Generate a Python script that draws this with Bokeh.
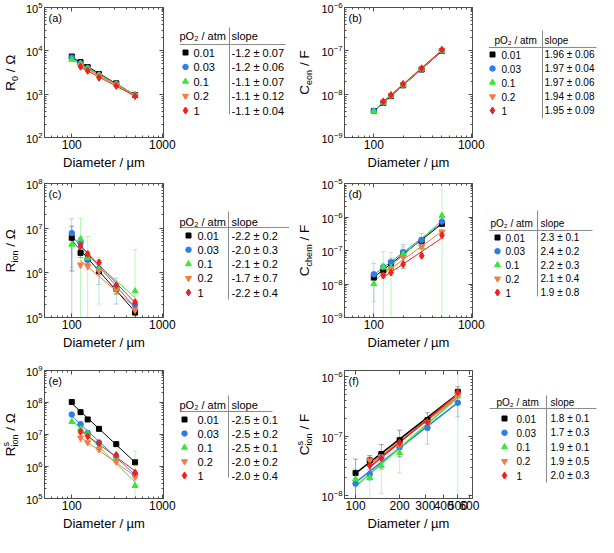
import numpy as np
from bokeh.plotting import figure
from bokeh.layouts import row, column
from bokeh.models import Range1d, FixedTicker, LogAxis, PrintfTickFormatter, Label, AllLabels
from bokeh.core.properties import value
from bokeh.embed import file_html
from bokeh.resources import INLINE

FONT = "Liberation Sans"
AX = "#4d4d4d"
nan = float("nan")

# ---------------- data ----------------
diameters = [100, 125, 150, 200, 310, 500]
po2_levels = ["0.01", "0.03", "0.1", "0.2", "1"]
series_colors = ["#000000", "#2f7ee8", "#39e639", "#f47a45", "#f01e1e"]
series_markers = ["square", "circle", "triangle", "inverted_triangle", "diamond"]
series_sizes = [5, 5.5, 6, 6, 7]

# (a) R0 / Ohm
a_001 = [7400, 5500, 4200, 2900, 1780, 960]
a_003 = [7000, 5200, 4000, 2780, 1720, 950]
a_01 = [6300, 5000, 3900, 2720, 1700, 980]
a_02 = [nan, 4700, 3750, 2600, 1650, 940]
a_1 = [nan, 4300, 3450, 2400, 1550, 900]
a_slopes = ["-1.2 ± 0.07", "-1.2 ± 0.06", "-1.1 ± 0.07", "-1.1 ± 0.12", "-1.1 ± 0.04"]

# (b) C_eon / F
b_001 = [4.1e-9, 6.3e-9, 9.0e-9, 1.60e-8, 3.70e-8, 1.00e-7]
b_003 = [4.1e-9, 6.4e-9, 9.1e-9, 1.62e-8, 3.75e-8, 1.00e-7]
b_01 = [4.0e-9, 6.4e-9, 9.2e-9, 1.63e-8, 3.80e-8, 1.01e-7]
b_02 = [nan, 6.6e-9, 9.4e-9, 1.68e-8, 3.85e-8, 1.02e-7]
b_1 = [nan, 6.8e-9, 9.6e-9, 1.72e-8, 3.95e-8, 1.06e-7]
b_slopes = ["1.96 ± 0.06", "1.97 ± 0.04", "1.97 ± 0.06", "1.94 ± 0.08", "1.95 ± 0.09"]

# (c) R_ion / Ohm
c_001 = [6.1e6, 2.8e6, 2.0e6, 1.1e6, 4.4e5, 1.3e5]
c_003 = [7.8e6, 4.7e6, 2.0e6, 1.25e6, 4.8e5, 1.9e5]
c_01 = [4.3e6, 5.7e6, 2.2e6, 1.2e6, 4.3e5, 3.9e5]
c_02 = [nan, 1.5e6, 1.4e6, 1.1e6, 4.3e5, 1.45e5]
c_1 = [nan, 4.0e6, 2.65e6, 1.7e6, 5.3e5, 2.2e5]
c_err_001 = [5.0e6, 6e5, 4e5, 2e5, 1e5, 2e4]
c_err_003 = [8.5e6, 1.5e6, 5e5, 7e5, 2.8e5, 3e4]
c_err_01 = [3e6, 1.1e7, 4.3e6, 1.0e6, 1e5, 2.9e6]
c_err_02 = [nan, 2e5, 2e5, 2e5, 1e5, 2e4]
c_err_1 = [nan, 3e5, 3e5, 2e5, 5e4, 3e4]
c_slopes = ["-2.2 ± 0.2", "-2.0 ± 0.3", "-2.1 ± 0.2", "-1.7 ± 0.7", "-2.2 ± 0.4"]

# (d) C_chem / F
d_001 = [1.55e-8, 2.55e-8, 4.2e-8, 8.3e-8, 1.95e-7, 6.3e-7]
d_003 = [1.95e-8, 3.2e-8, 4.4e-8, 8.9e-8, 2.05e-7, 7.3e-7]
d_01 = [1.0e-8, 3.2e-8, 3.1e-8, 7.9e-8, 1.25e-7, 1.1e-6]
d_02 = [nan, 1.85e-8, 2.75e-8, 6.3e-8, 1.32e-7, 3.6e-7]
d_1 = [nan, 1.8e-8, 2.2e-8, 3.9e-8, 7.0e-8, 2.85e-7]
d_err_001 = [6e-9, 6e-9, 1e-8, 2e-8, 5e-8, 1e-7]
d_err_003 = [2.2e-8, 1e-8, 1.5e-8, 6e-8, 1.2e-7, 2e-7]
d_err_01 = [7e-9, 6e-8, 5.5e-8, 5e-8, 6e-8, 1.2e-5]
d_err_02 = [nan, 3e-9, 5e-9, 1e-8, 2e-8, 5e-8]
d_err_1 = [nan, 3e-9, 4e-9, 6e-9, 1e-8, 5e-8]
d_slopes = ["2.3 ± 0.1", "2.4 ± 0.2", "2.2 ± 0.3", "2.1 ± 0.4", "1.9 ± 0.8"]

# (e) R^s_ion / Ohm
e_001 = [1.04e8, 5.0e7, 2.95e7, 1.5e7, 5.0e6, 1.35e6]
e_003 = [4.2e7, 2.1e7, 1.12e7, 5.6e6, 2.0e6, 5.6e5]
e_01 = [2.5e7, 1.5e7, 1.05e7, 4.0e6, 1.75e6, 2.5e5]
e_02 = [nan, 7.9e6, 5.6e6, 3.4e6, 1.4e6, 4.7e5]
e_1 = [nan, 1.22e7, 8.8e6, 5.3e6, 2.3e6, 6.4e5]
e_err_001 = [2e6, 1e6, 1e6, 5e5, 2e5, 1e5]
e_err_003 = [2e6, 4e6, 1e6, 5e5, 2e5, 1e5]
e_err_01 = [1.5e6, 3e6, 3e6, 8e5, 2e5, 2.8e6]
e_err_02 = [nan, 2e6, 5e5, 3e5, 1e5, 5e4]
e_err_1 = [nan, 1.5e6, 1e6, 5e5, 2e5, 1e5]
e_slopes = ["-2.5 ± 0.1", "-2.5 ± 0.2", "-2.5 ± 0.1", "-2.0 ± 0.2", "-2.0 ± 0.4"]

# (f) C^s_ion / F
f_001 = [2.4e-8, 3.9e-8, 5.0e-8, 8.5e-8, 1.85e-7, 5.5e-7]
f_003 = [1.6e-8, 2.3e-8, 4.4e-8, 6.5e-8, 1.38e-7, 3.6e-7]
f_01 = [1.9e-8, 2.0e-8, 3.2e-8, 5.2e-8, 1.7e-7, 4.8e-7]
f_02 = [nan, 3.9e-8, 4.5e-8, 7.1e-8, 1.7e-7, 5.0e-7]
f_1 = [nan, 3.2e-8, 4.3e-8, 7.7e-8, 1.72e-7, 5.4e-7]
f_err_001 = [1.7e-8, 8e-9, 2.2e-8, 4e-8, 6e-8, 1.2e-7]
f_err_003 = [1.2e-8, 5e-9, 1e-8, 1.5e-8, 6.5e-8, 1.5e-7]
f_err_01 = [5e-9, 1.6e-8, 2.1e-8, 2.8e-8, 3e-8, 1.5e-6]
f_err_02 = [nan, 7e-9, 8e-9, 1e-8, 2e-8, 5e-8]
f_err_1 = [nan, 5e-9, 8e-9, 1e-8, 2e-8, 6e-8]
f_slopes = ["1.8 ± 0.1", "1.7 ± 0.3", "1.9 ± 0.1", "1.9 ± 0.5", "2.0 ± 0.3"]

x_major = [100, 1000]
x_minor = [50, 60, 70, 80, 90, 200, 300, 400, 500, 600, 700, 800, 900]
f_x_major = [100, 200, 300, 400, 500, 600]
X_RANGE = (50, 1030)

panels = {
    "a": dict(letter="(a)", values=[a_001, a_003, a_01, a_02, a_1], errors=None, slopes=a_slopes,
              xr=X_RANGE, yr=(1e2, 1e5), xt=x_major, xm=x_minor, lw=1.0,
              ylab=[("R", "main"), ("0", "sub"), (" / Ω", "main")],
              tab=dict(hx=0, l0=0, l1=106, mx=6, tx=14, vx=50, sx=52, hy=35, ly=44, r0=52, dr=14.5, v0=27, v1=114, fs=11)),
    "b": dict(letter="(b)", values=[b_001, b_003, b_01, b_02, b_1], errors=None, slopes=b_slopes,
              xr=X_RANGE, yr=(1e-9, 1e-6), xt=x_major, xm=x_minor, lw=1.0,
              ylab=[("C", "main"), ("eon", "sub"), (" / F", "main")],
              tab=dict(hx=6, l0=0, l1=108, mx=4, tx=13, vx=54, sx=56, hy=40, ly=47, r0=54, dr=14, v0=30, v1=118, fs=10)),
    "c": dict(letter="(c)", values=[c_001, c_003, c_01, c_02, c_1],
              errors=[c_err_001, c_err_003, c_err_01, c_err_02, c_err_1], slopes=c_slopes,
              xr=X_RANGE, yr=(1e5, 1e8), xt=x_major, xm=x_minor, lw=1.0,
              ylab=[("R", "main"), ("ion", "sub"), (" / Ω", "main")],
              tab=dict(hx=0, l0=0, l1=110, mx=9, tx=18, vx=49, sx=52, hy=49, ly=55, r0=63, dr=14.25, v0=39, v1=127, fs=11)),
    "d": dict(letter="(d)", values=[d_001, d_003, d_01, d_02, d_1],
              errors=[d_err_001, d_err_003, d_err_01, d_err_02, d_err_1], slopes=d_slopes,
              xr=X_RANGE, yr=(1e-9, 1e-5), xt=x_major, xm=x_minor, lw=1.0,
              ylab=[("C", "main"), ("chem", "sub"), (" / F", "main")],
              tab=dict(hx=2, l0=0, l1=104, mx=9, tx=17, vx=49, sx=52, hy=51, ly=58, r0=65, dr=13.75, v0=38, v1=124, fs=10)),
    "e": dict(letter="(e)", values=[e_001, e_003, e_01, e_02, e_1],
              errors=[e_err_001, e_err_003, e_err_01, e_err_02, e_err_1], slopes=e_slopes,
              xr=X_RANGE, yr=(1e5, 1e9), xt=x_major, xm=x_minor, lw=1.0,
              ylab=[("R", "main"), ("s", "sup"), ("ion", "sub"), (" / Ω", "main")],
              tab=dict(hx=0, l0=0, l1=93, mx=5, tx=18, vx=49, sx=52, hy=52, ly=59, r0=67, dr=14, v0=43, v1=125, fs=11)),
    "f": dict(letter="(f)", values=[f_001, f_003, f_01, f_02, f_1],
              errors=[f_err_001, f_err_003, f_err_01, f_err_02, f_err_1], slopes=f_slopes,
              xr=(84, 630), yr=(9e-9, 1.25e-6), xt=f_x_major, xm=[], lw=1.5,
              ylab=[("C", "main"), ("s", "sup"), ("ion", "sub"), (" / F", "main")],
              tab=dict(hx=8, l0=1, l1=108, mx=16, tx=28, vx=58, sx=62, hy=50, ly=56, r0=66, dr=14.25, v0=43, v1=130, fs=10)),
}

# ---------------- layout constants ----------------
ROW_H = [172, 180, 181]
ROW_TOP = [7, 11, 18]
ROW_BOT = [35, 35, 35]
L_LAB_W, L_BL, L_FR, L_BR, L_TAB_W = 22, 19, 122, 16, 110
R_LAB_W, R_BL, R_FR, R_BR = 28, 27, 128, 16
R_TAB_W = 597 - (L_LAB_W + L_BL + L_FR + L_BR + L_TAB_W) - (R_LAB_W + R_BL + R_FR + R_BR)

CW = {'R': 0.722, 'C': 0.722, '0': 0.556, 'e': 0.556, 'o': 0.556, 'n': 0.556, 'i': 0.222,
      'c': 0.5, 'h': 0.556, 'm': 0.833, 's': 0.5, ' ': 0.278, '/': 0.278, 'Ω': 0.768, 'F': 0.611}


def tw(s, fs):
    return sum(CW.get(ch, 0.556) for ch in s) * fs


def log_ticks(lo, hi):
    k0 = int(np.floor(np.log10(lo)))
    k1 = int(np.ceil(np.log10(hi)))
    major = [float(f"1e{k}") for k in range(k0, k1 + 1) if lo * 0.999 <= 10.0 ** k <= hi * 1.001]
    minor = [float(f"{m}e{k}") for k in range(k0, k1 + 1) for m in range(2, 10) if lo <= m * 10.0 ** k <= hi]
    return major, minor


def style_axis(ax, fs="12px", labels=True):
    ax.axis_line_color = AX
    ax.major_tick_line_color = AX
    ax.minor_tick_line_color = AX
    ax.major_tick_in = 4
    ax.major_tick_out = 0
    ax.minor_tick_in = 2
    ax.minor_tick_out = 0
    ax.major_label_text_font = FONT
    ax.major_label_policy = AllLabels()
    if labels:
        ax.major_label_text_color = "#000000"
        ax.major_label_text_font_size = fs
        ax.major_label_standoff = 2
    else:
        ax.major_label_text_alpha = 0.0
        ax.major_label_text_font_size = "1px"
        ax.major_label_standoff = 0
    ax.axis_label_text_font = FONT
    ax.axis_label_text_font_style = "normal"
    ax.axis_label_text_font_size = "13px"
    ax.axis_label_standoff = 3
    ax.axis_label_text_color = "#000000"


def make_plot(pan, H, top, bot, bl, fr, br):
    xr, yr = pan["xr"], pan["yr"]
    p = figure(width=bl + fr + br, height=H, x_axis_type="log", y_axis_type="log",
               x_range=Range1d(*xr), y_range=Range1d(*yr), output_backend="svg",
               toolbar_location=None, tools="", min_border_left=bl, min_border_right=br,
               min_border_top=top, min_border_bottom=bot)
    p.xgrid.visible = False
    p.ygrid.visible = False
    p.outline_line_color = AX
    p.background_fill_color = "white"
    ymaj, ymin_ = log_ticks(*yr)
    p.xaxis[0].ticker = FixedTicker(ticks=pan["xt"], minor_ticks=pan["xm"])
    p.yaxis[0].ticker = FixedTicker(ticks=ymaj, minor_ticks=ymin_)
    p.xaxis[0].formatter = PrintfTickFormatter(format="%d")
    p.xaxis[0].axis_label = "Diameter / µm"
    style_axis(p.xaxis[0], "12px")
    style_axis(p.yaxis[0], "11px")
    ra = LogAxis(ticker=FixedTicker(ticks=ymaj, minor_ticks=ymin_))
    style_axis(ra, labels=False)
    p.add_layout(ra, "right")
    ta = LogAxis(ticker=FixedTicker(ticks=pan["xt"], minor_ticks=pan["xm"]),
                 formatter=PrintfTickFormatter(format="%d"))
    style_axis(ta, labels=False)
    p.add_layout(ta, "above")

    d = np.array(diameters, dtype=float)
    clip_lo = yr[0] / 10.0
    if pan["errors"] is not None:
        for vals, errs, col in zip(pan["values"], pan["errors"], series_colors):
            v = np.array(vals, dtype=float)
            e = np.array(errs, dtype=float)
            ok = ~np.isnan(v)
            lo = v[ok] - e[ok]
            lo = np.where(lo > 0, lo, clip_lo)
            hi = v[ok] + e[ok]
            dd = d[ok]
            p.segment(x0=dd, y0=lo, x1=dd, y1=hi, line_color=col, line_alpha=0.35, line_width=1)
            p.scatter(x=np.concatenate([dd, dd]), y=np.concatenate([lo, hi]), marker="dash", size=5,
                      line_color=col, line_alpha=0.35)
    for vals, col in zip(pan["values"], series_colors):
        v = np.array(vals, dtype=float)
        m = ~np.isnan(v)
        lx = np.log10(d[m])
        ly = np.log10(v[m])
        k, b = np.polyfit(lx, ly, 1)
        xs = [10 ** lx.min(), 10 ** lx.max()]
        ys = [10 ** (b + k * lx.min()), 10 ** (b + k * lx.max())]
        p.line(xs, ys, line_color=col, line_width=pan["lw"])
    for vals, col, mk, sz in zip(pan["values"], series_colors, series_markers, series_sizes):
        v = np.array(vals, dtype=float)
        m = ~np.isnan(v)
        p.scatter(x=d[m], y=v[m], marker=mk, size=sz, fill_color=col, line_color=col)

    p.add_layout(Label(x=xr[0], y=yr[1], x_offset=4, y_offset=-4, text=pan["letter"],
                       text_baseline="top", text_align="left", text_font=FONT,
                       text_font_size="11px", text_color="#000000"))
    return p


def blank_fig(W, H, top, bot, y_down=False):
    # data coordinates equal pixel offsets inside the whole canvas
    yr = Range1d(H - bot, top) if y_down else Range1d(bot, H - top)
    f = figure(width=W, height=H, x_range=Range1d(0, W), y_range=yr,
               x_axis_location=None, y_axis_location=None, output_backend="svg",
               toolbar_location=None, tools="", min_border_left=0, min_border_right=0,
               min_border_top=top, min_border_bottom=bot)
    f.xgrid.visible = False
    f.ygrid.visible = False
    f.outline_line_color = None
    return f


def make_ylabel(W, H, top, bot, pieces, xc):
    f = blank_fig(W, H, top, bot)
    MAIN, SMALL = 13.5, 9
    placed = []
    cur = 0.0
    i = 0
    while i < len(pieces):
        txt, kind = pieces[i]
        if kind == "sup" and i + 1 < len(pieces) and pieces[i + 1][1] == "sub":
            stxt = pieces[i + 1][0]
            placed.append((txt, "sup", cur))
            placed.append((stxt, "sub", cur))
            cur += max(tw(txt, SMALL), tw(stxt, SMALL))
            i += 2
            continue
        fs = MAIN if kind == "main" else SMALL
        lead = len(txt) - len(txt.lstrip(" "))
        cur += lead * CW[" "] * fs
        placed.append((txt.strip(" "), kind, cur))
        cur += tw(txt.strip(" "), fs)
        i += 1
    yc = H - (top + (H - top - bot) / 2.0)
    start = yc - cur / 2.0
    for txt, kind, off in placed:
        fs = MAIN if kind == "main" else SMALL
        dx = {"main": 0.0, "sub": 4.3, "sup": -4.5}[kind]
        f.text(x=[xc + dx], y=[start + off], text=[txt], angle=np.pi / 2, text_align="left",
               text_baseline="middle", text_font=value(FONT), text_font_size=value(f"{fs}px"),
               text_color="#000000")
    return f


def make_table(W, H, top, bot, pan):
    t = pan["tab"]
    f = blank_fig(W, H, top, bot, y_down=True)
    fs = value(f"{t['fs']}px")
    f.segment(x0=[t["l0"]], y0=[t["ly"]], x1=[t["l1"]], y1=[t["ly"]], line_color="#8a8a8a", line_width=1)
    f.segment(x0=[t["vx"]], y0=[t["v0"]], x1=[t["vx"]], y1=[t["v1"]], line_color="#8a8a8a", line_width=1)
    f.text(x=[t["hx"]], y=[t["hy"]], text=["pO₂ / atm"], text_align="left", text_baseline="middle",
           text_font=value(FONT), text_font_size=fs, text_color="#000000")
    f.text(x=[t["sx"]], y=[t["hy"]], text=["slope"], text_align="left", text_baseline="middle",
           text_font=value(FONT), text_font_size=fs, text_color="#000000")
    ys = [t["r0"] + i * t["dr"] for i in range(len(po2_levels))]
    for yy, col, mk, sz in zip(ys, series_colors, series_markers, series_sizes):
        f.scatter(x=[t["mx"]], y=[yy], marker=mk, size=sz, fill_color=col, line_color=col)
    f.text(x=[t["tx"]] * len(ys), y=ys, text=po2_levels, text_align="left", text_baseline="middle",
           text_font=value(FONT), text_font_size=fs, text_color="#000000")
    f.text(x=[t["sx"]] * len(ys), y=ys, text=pan["slopes"], text_align="left", text_baseline="middle",
           text_font=value(FONT), text_font_size=fs, text_color="#000000")
    return f


rows = []
for r, (lk, rk) in enumerate([("a", "b"), ("c", "d"), ("e", "f")]):
    H, top, bot = ROW_H[r], ROW_TOP[r], ROW_BOT[r]
    pl, pr = panels[lk], panels[rk]
    items = [
        make_ylabel(L_LAB_W, H, top, bot, pl["ylab"], 10.0),
        make_plot(pl, H, top, bot, L_BL, L_FR, L_BR),
        make_table(L_TAB_W, H, top, bot, pl),
        make_ylabel(R_LAB_W, H, top, bot, pr["ylab"], 15.0),
        make_plot(pr, H, top, bot, R_BL, R_FR, R_BR),
        make_table(R_TAB_W, H, top, bot, pr),
    ]
    rows.append(row(*items))

layout = column(*rows)
open("out.html", "w").write(file_html(layout, INLINE))
